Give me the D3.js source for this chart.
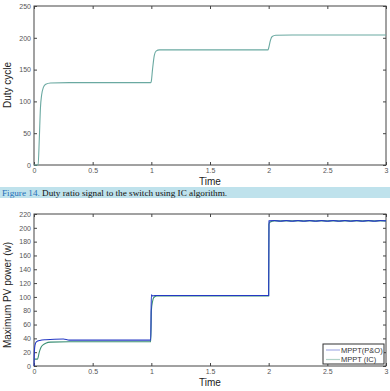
<!DOCTYPE html>
<html>
<head>
<meta charset="utf-8">
<script src="https://cdn.jsdelivr.net/npm/d3@7"></script>
<style>
  body { margin: 0; background: #fff; }
  text { font-family: "Liberation Sans", Arial, sans-serif; }
</style>
</head>
<body>
<svg id="chart" width="390" height="391"></svg>
<script>
// ---- data (time, value) ----
const dutyIC = [
  [0, 0], [0.035, 0], [0.045, 40], [0.055, 90], [0.065, 110], [0.08, 122],
  [0.1, 127], [0.14, 129], [0.3, 129.5], [0.995, 129.5], [1.0, 132],
  [1.01, 150], [1.025, 172], [1.04, 179], [1.07, 181], [1.5, 181],
  [1.995, 181], [2.0, 184], [2.015, 196], [2.03, 202], [2.06, 204],
  [2.2, 204.5], [3, 204.5]
];

const powerPO = [
  [0, 0], [0.003, 20], [0.008, 30], [0.02, 35], [0.05, 37], [0.1, 38],
  [0.25, 39], [0.3, 37.5], [0.995, 37.5], [1.0, 103], [1.01, 101.5],
  [1.03, 102], [1.995, 102], [2.0, 102], [2.003, 210],
  [2.05, 210.5], [2.1, 209.6], [2.15, 210.5], [2.2, 209.6], [2.25, 210.5],
  [2.3, 209.6], [2.35, 210.5], [2.4, 209.6], [2.45, 210.5], [2.5, 209.6],
  [2.55, 210.5], [2.6, 209.6], [2.65, 210.5], [2.7, 209.6], [2.75, 210.5],
  [2.8, 209.6], [2.85, 210.5], [2.9, 209.6], [2.95, 210.5], [3, 210]
];

const powerIC = [
  [0, 10], [0.03, 10], [0.045, 20], [0.06, 27], [0.08, 31], [0.1, 33],
  [0.14, 34.5], [0.3, 35], [0.995, 35], [1.0, 80], [1.01, 93],
  [1.02, 99], [1.045, 101.5], [1.995, 101.5], [2.0, 101.5], [2.002, 205],
  [2.01, 208], [2.05, 210], [3, 210]
];

const timeTicks = [0, 0.5, 1, 1.5, 2, 2.5, 3];
const dutyTicks = [0, 50, 100, 150, 200, 250];
const powerTicks = d3.range(0, 221, 20);
const legendLabels = ["MPPT(P&O)", "MPPT (IC)"];
const caption = ["Figure 14.", " Duty ratio signal to the switch using IC algorithm."];

// ---- drawing ----
const svg = d3.select("#chart");
const axisColor = "#444";
const tickColor = "#555";

function drawPanel(opts) {
  const x = d3.scaleLinear().domain([0, 3]).range([opts.left, opts.right]);
  const y = d3.scaleLinear().domain(opts.yDomain).range([opts.bottom, opts.top]);
  const g = svg.append("g");

  // frame
  g.append("rect")
    .attr("x", opts.left).attr("y", opts.top)
    .attr("width", opts.right - opts.left).attr("height", opts.bottom - opts.top)
    .attr("fill", "none").attr("stroke", axisColor).attr("stroke-width", 1);

  const style = sel => {
    sel.select(".domain").remove();
    sel.selectAll(".tick line").attr("stroke", axisColor);
    sel.selectAll(".tick text").attr("fill", tickColor)
      .style("font-size", "7px");
  };

  g.append("g").attr("transform", `translate(0,${opts.bottom})`)
    .call(d3.axisBottom(x).tickValues(timeTicks).tickFormat(d3.format("")).tickSizeInner(-3).tickPadding(3))
    .call(style);
  g.append("g").attr("transform", `translate(0,${opts.top})`)
    .call(d3.axisTop(x).tickValues(timeTicks).tickFormat("").tickSizeInner(-3))
    .call(style);
  g.append("g").attr("transform", `translate(${opts.left},0)`)
    .call(d3.axisLeft(y).tickValues(opts.yTicks).tickSizeInner(-3).tickPadding(3))
    .call(style);
  g.append("g").attr("transform", `translate(${opts.right},0)`)
    .call(d3.axisRight(y).tickValues(opts.yTicks).tickFormat("").tickSizeInner(-3))
    .call(style);

  const line = d3.line().x(d => x(d[0])).y(d => y(d[1])).curve(d3.curveMonotoneX);
  opts.series.forEach(s => {
    g.append("path").datum(s.data)
      .attr("d", line)
      .attr("fill", "none")
      .attr("stroke", s.color)
      .attr("stroke-width", 1.1);
  });

  g.append("text")
    .attr("x", (opts.left + opts.right) / 2).attr("y", opts.bottom + 20)
    .attr("text-anchor", "middle").attr("fill", "#222")
    .style("font-size", "10px").text("Time");

  g.append("text")
    .attr("transform", `translate(11,${opts.labelY}) rotate(-90)`)
    .attr("text-anchor", "middle").attr("fill", "#222")
    .style("font-size", "10px").text(opts.yLabel);

  return { x, y, g };
}

drawPanel({
  left: 34, right: 386, top: 6, bottom: 165,
  yDomain: [0, 250], yTicks: dutyTicks,
  yLabel: "Duty cycle", labelY: 85,
  series: [{ data: dutyIC, color: "#6aa9a1" }]
});

// caption band
svg.append("rect").attr("x", 0).attr("y", 187).attr("width", 390).attr("height", 11)
  .attr("fill", "#bfe2ec");
const cap = svg.append("text").attr("x", 2).attr("y", 195.5)
  .style("font-family", "'Liberation Serif', 'Times New Roman', serif")
  .style("font-size", "9.2px");
cap.append("tspan").attr("fill", "#1f6fb8").text(caption[0]);
cap.append("tspan").attr("fill", "#111").text(caption[1]);

const seriesColors = ["#2438c4", "#3a8f74"];
drawPanel({
  left: 34, right: 386, top: 214, bottom: 366,
  yDomain: [0, 220], yTicks: powerTicks,
  yLabel: "Maximum PV power (w)", labelY: 295,
  series: [
    { data: powerIC, color: seriesColors[1] },
    { data: powerPO, color: seriesColors[0] }
  ]
});

// legend
const lg = svg.append("g").attr("transform", "translate(323,344)");
lg.append("rect").attr("width", 61).attr("height", 20)
  .attr("fill", "#fff").attr("stroke", "#333").attr("stroke-width", 1);
legendLabels.forEach((lab, i) => {
  const yy = 6 + i * 9.5;
  lg.append("line").attr("x1", 3).attr("x2", 17).attr("y1", yy).attr("y2", yy)
    .attr("stroke", seriesColors[i]).attr("stroke-opacity", 0.4).attr("stroke-width", 1.2);
  lg.append("text").attr("x", 18).attr("y", yy + 2.6)
    .attr("fill", "#333").style("font-size", "7.5px").text(lab);
});
</script>
</body>
</html>
